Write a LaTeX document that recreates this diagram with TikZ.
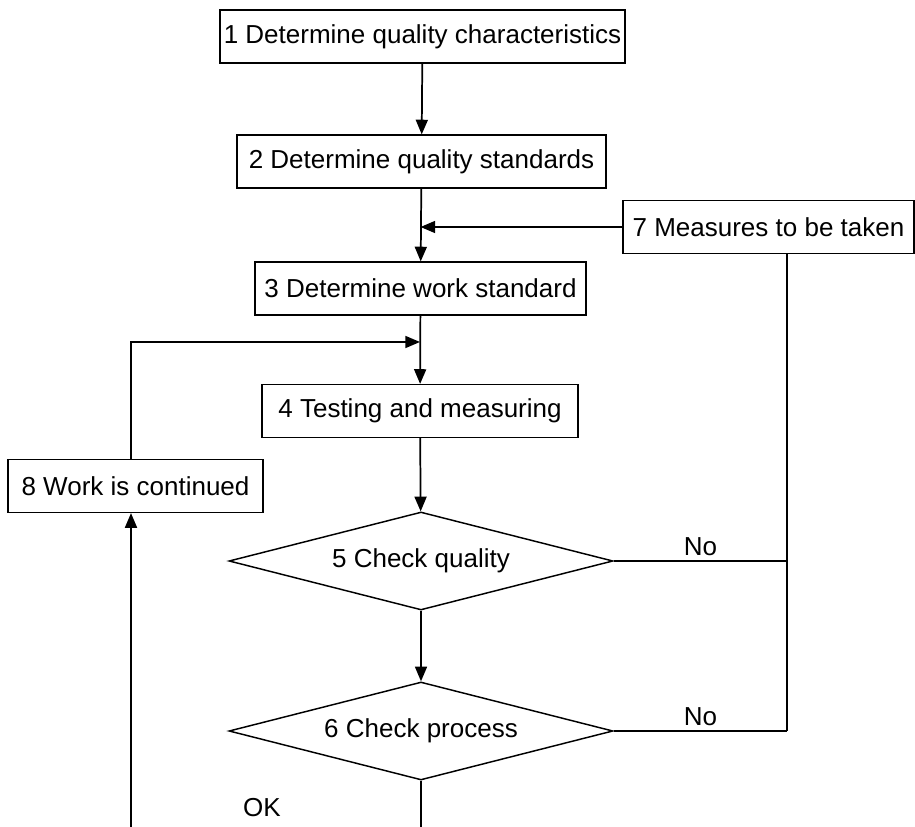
\documentclass[tikz,border=0pt]{standalone}
\usepackage{fontspec}
\setmainfont{Liberation Sans}
\usetikzlibrary{arrows.meta, shapes.geometric, backgrounds}

\begin{document}
\begin{tikzpicture}[
    x=0.75pt, y=-0.75pt,
    background rectangle/.style={fill=white},
    show background rectangle,
    font=\fontsize{19.5}{23}\selectfont,
    stepbox/.style={draw, line width=0.9pt, inner xsep=1pt, minimum height=39.75pt},
    checkbox/.style={diamond, draw, line width=1.1pt, inner sep=1pt, aspect=4,
      minimum width=288pt, minimum height=73.5pt},
    flow/.style={line width=1.3pt, -{Triangle[length=11pt, width=9pt]}},
    link/.style={line width=1.3pt}]
    \useasboundingbox (0,0) rectangle (915,827);

    % The steps of the quality loop
    \node[stepbox, minimum width=303.75pt] (det1) at (422.5,36.5) {1 Determine quality characteristics};
    \node[stepbox, minimum width=276.75pt] (det2) at (421.5,161.5) {2 Determine quality standards};
    \node[stepbox, minimum width=248.25pt] (det3) at (420.5,288.5) {3 Determine work standard};
    \node[stepbox, minimum width=237pt] (test) at (420,411) {4 Testing and measuring};
    \node[stepbox, minimum width=218.25pt] (measures) at (768.5,227) {7 Measures to be taken};
    \node[stepbox, minimum width=191.25pt] (cont) at (135.5,486) {8 Work is continued};

    % The two checks
    \node[checkbox] (chkq) at (421,561) {5 Check quality};
    \node[checkbox] (chkp) at (421,731) {6 Check process};

    % Joints and loose ends
    \coordinate (jmeas) at (det3.north |- measures.west);
    \coordinate (jcont) at (test.north |- 0,342);
    \coordinate (rtop) at (787,254);
    \coordinate (rq) at (787,561);
    \coordinate (rp) at (787,731);
    \coordinate (okend) at (chkp.south |- 0,827);
    \coordinate (contend) at (131,827);

    % Main line downwards
    \draw[flow] (det1) -- (det2);
    \draw[flow] (det2) -- (det3);
    \draw[flow] (det3) -- (test);
    \draw[flow] (test) -- (chkq);
    \draw[flow] (chkq) -- (chkp);
    \draw[link] (chkp.south) -- (okend);

    % Measures fed back in above step 3
    \draw[flow] (measures.west) -- (jmeas);
    \draw[link] (chkq.east) -- node[above] {No} (rq);
    \draw[link] (chkp.east) -- node[above] {No} (rp);
    \draw[link] (rtop) -- (rp);

    % Continue the work and go back to testing
    \draw[flow] (contend) -- (contend |- cont.south);
    \draw[flow] (contend |- cont.north) |- (jcont);
    \node at (262,808) {OK};
\end{tikzpicture}
\end{document}
